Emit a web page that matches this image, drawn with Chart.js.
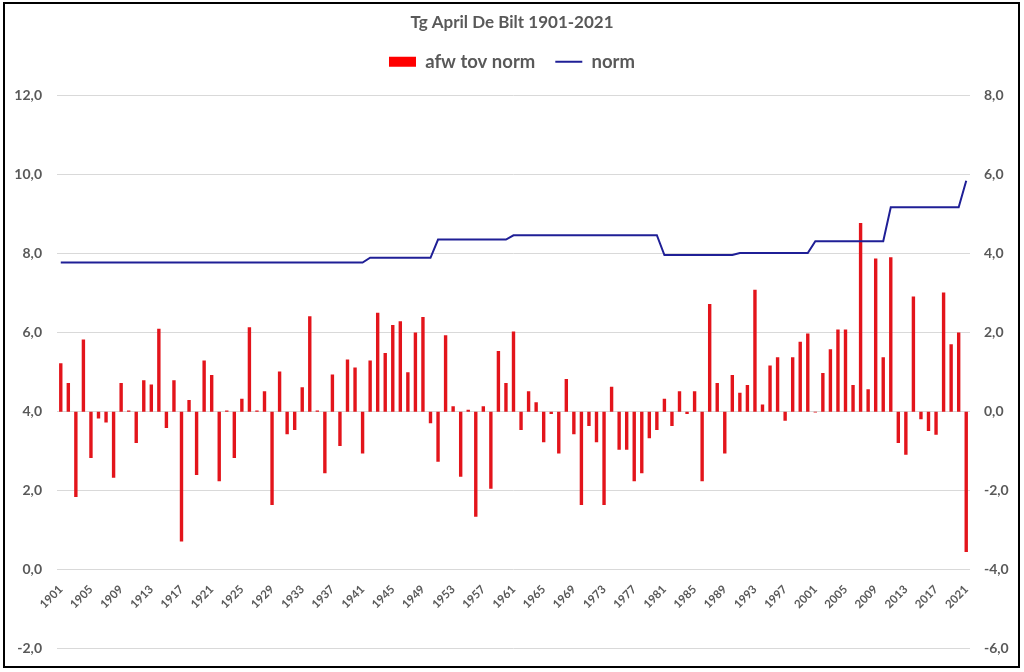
<!DOCTYPE html>
<html>
<head>
<meta charset="utf-8">
<script src="https://cdn.jsdelivr.net/npm/chart.js@4"></script>
<style>
  body { margin: 0; background: #fff; }
  canvas { display: block; }
</style>
</head>
<body>
<canvas id="chart" width="1024" height="672"></canvas>
<script>
// Jaren 1901-2021
const years = [];
for (let y = 1901; y <= 2021; y++) years.push(String(y));

// afwijking t.o.v. norm (rechter as)
const afwijking = [
  1.23, 0.73, -2.16, 1.83, -1.17, -0.17, -0.27, -1.67, 0.73, 0.03,
  -0.79, 0.80, 0.69, 2.10, -0.41, 0.80, -3.29, 0.30, -1.60, 1.30,
  0.93, -1.76, 0.03, -1.17, 0.33, 2.14, 0.03, 0.52, -2.36, 1.02,
  -0.57, -0.46, 0.62, 2.42, 0.03, -1.56, 0.94, -0.87, 1.32, 1.12,
  -1.06, 1.30, 2.51, 1.49, 2.20, 2.29, 1.00, 2.01, 2.40, -0.29,
  -1.27, 1.94, 0.14, -1.65, 0.05, -2.66, 0.14, -1.95, 1.54, 0.73,
  2.03, -0.46, 0.52, 0.24, -0.77, -0.06, -1.06, 0.83, -0.57, -2.36,
  -0.36, -0.77, -2.36, 0.63, -0.96, -0.96, -1.76, -1.56, -0.67, -0.46,
  0.33, -0.36, 0.52, -0.06, 0.52, -1.76, 2.73, 0.73, -1.06, 0.93,
  0.48, 0.68, 3.09, 0.18, 1.17, 1.38, -0.23, 1.38, 1.77, 1.98,
  -0.02, 0.98, 1.58, 2.08, 2.08, 0.68, 4.78, 0.57, 3.88, 1.38,
  3.91, -0.79, -1.09, 2.92, -0.19, -0.49, -0.58, 3.02, 1.71, 2.01,
  -3.55
];

// norm (linker as)
const norm = [
  7.78, 7.78, 7.78, 7.78, 7.78, 7.78, 7.78, 7.78, 7.78, 7.78,
  7.78, 7.78, 7.78, 7.78, 7.78, 7.78, 7.78, 7.78, 7.78, 7.78,
  7.78, 7.78, 7.78, 7.78, 7.78, 7.78, 7.78, 7.78, 7.78, 7.78,
  7.78, 7.78, 7.78, 7.78, 7.78, 7.78, 7.78, 7.78, 7.78, 7.78,
  7.78, 7.90, 7.90, 7.90, 7.90, 7.90, 7.90, 7.90, 7.90, 7.90,
  8.36, 8.36, 8.36, 8.36, 8.36, 8.36, 8.36, 8.36, 8.36, 8.36,
  8.47, 8.47, 8.47, 8.47, 8.47, 8.47, 8.47, 8.47, 8.47, 8.47,
  8.47, 8.47, 8.47, 8.47, 8.47, 8.47, 8.47, 8.47, 8.47, 8.47,
  7.97, 7.97, 7.97, 7.97, 7.97, 7.97, 7.97, 7.97, 7.97, 7.97,
  8.02, 8.02, 8.02, 8.02, 8.02, 8.02, 8.02, 8.02, 8.02, 8.02,
  8.32, 8.32, 8.32, 8.32, 8.32, 8.32, 8.32, 8.32, 8.32, 8.32,
  9.18, 9.18, 9.18, 9.18, 9.18, 9.18, 9.18, 9.18, 9.18, 9.18,
  9.85
];

const grijs = '#595959';
const komma = v => v.toFixed(1).replace('.', ',');

Chart.defaults.font.family = 'Lato, "Open Sans", sans-serif';
Chart.defaults.color = grijs;

// extra ruimte onder de legenda
const legendGap = {
  id: 'legendGap',
  beforeInit(chart) {
    const fit = chart.legend.fit;
    chart.legend.fit = function () {
      fit.bind(this)();
      this.height += 15;
    };
  }
};

// witte achtergrond en zwarte rand om de figuur
const kader = {
  id: 'kader',
  beforeDraw(chart) {
    const ctx = chart.ctx;
    ctx.save();
    ctx.fillStyle = '#fff';
    ctx.fillRect(0, 0, chart.width, chart.height);
    ctx.restore();
  },
  afterDraw(chart) {
    const ctx = chart.ctx;
    ctx.save();
    ctx.strokeStyle = '#000';
    ctx.lineWidth = 2;
    ctx.strokeRect(4, 3, 1015, 664);
    ctx.restore();
  }
};

new Chart(document.getElementById('chart'), {
  data: {
    labels: years,
    datasets: [
      {
        type: 'bar',
        label: 'afw tov norm',
        data: afwijking,
        yAxisID: 'y1',
        backgroundColor: '#E3141B',
        borderWidth: 0,
        barPercentage: 0.45,
        categoryPercentage: 1,
        order: 2
      },
      {
        type: 'line',
        label: 'norm',
        data: norm,
        yAxisID: 'y',
        borderColor: '#1F1F96',
        backgroundColor: '#1F1F96',
        borderWidth: 2,
        pointRadius: 0,
        tension: 0,
        order: 1
      }
    ]
  },
  options: {
    responsive: false,
    animation: false,
    layout: { padding: { top: 0, bottom: 23, left: 0, right: 0 } },
    plugins: {
      title: {
        display: true,
        text: 'Tg April De Bilt 1901-2021',
        color: grijs,
        font: { size: 17, weight: 'bold' },
        padding: { top: 12, bottom: 0 }
      },
      legend: {
        labels: {
          color: grijs,
          font: { size: 18.5, weight: 'bold' },
          padding: 20,
          usePointStyle: true,
          pointStyleWidth: 27,
          boxHeight: 10,
          sort: (a, b) => a.datasetIndex - b.datasetIndex,
          generateLabels(chart) {
            const items = Chart.defaults.plugins.legend.labels.generateLabels(chart);
            items.forEach(it => {
              if (it.datasetIndex === 0) {
                it.pointStyle = 'rect';
                it.fillStyle = '#FF0000';
                it.lineWidth = 0;
              } else {
                it.pointStyle = 'line';
                it.strokeStyle = '#1F1F96';
                it.lineWidth = 2;
              }
            });
            return items;
          }
        }
      },
      tooltip: { enabled: false }
    },
    scales: {
      x: {
        type: 'category',
        position: { y: 0 },
        offset: true,
        grid: { display: false, drawTicks: false },
        border: { display: false },
        ticks: {
          autoSkip: false,
          maxRotation: 45,
          minRotation: 45,
          padding: 13,
          color: grijs,
          font: { size: 11.5, weight: 'bold' },
          callback(value, index) {
            return index % 4 === 0 ? this.getLabelForValue(value) : '';
          }
        }
      },
      y: {
        position: 'left',
        min: -2,
        max: 12,
        grid: { color: '#D9D9D9', drawTicks: false },
        border: { display: false },
        ticks: {
          stepSize: 2,
          padding: 15,
          color: grijs,
          font: { size: 14, weight: 'bold' },
          callback: v => komma(v)
        },
        afterFit(scale) { scale.width = 57; }
      },
      y1: {
        position: 'right',
        min: -6,
        max: 8,
        grid: { display: false, drawTicks: false },
        border: { display: false },
        ticks: {
          stepSize: 2,
          padding: 14,
          color: grijs,
          font: { size: 14, weight: 'bold' },
          callback: v => komma(v)
        },
        afterFit(scale) { scale.width = 54; }
      }
    }
  },
  plugins: [legendGap, kader]
});
</script>
</body>
</html>
